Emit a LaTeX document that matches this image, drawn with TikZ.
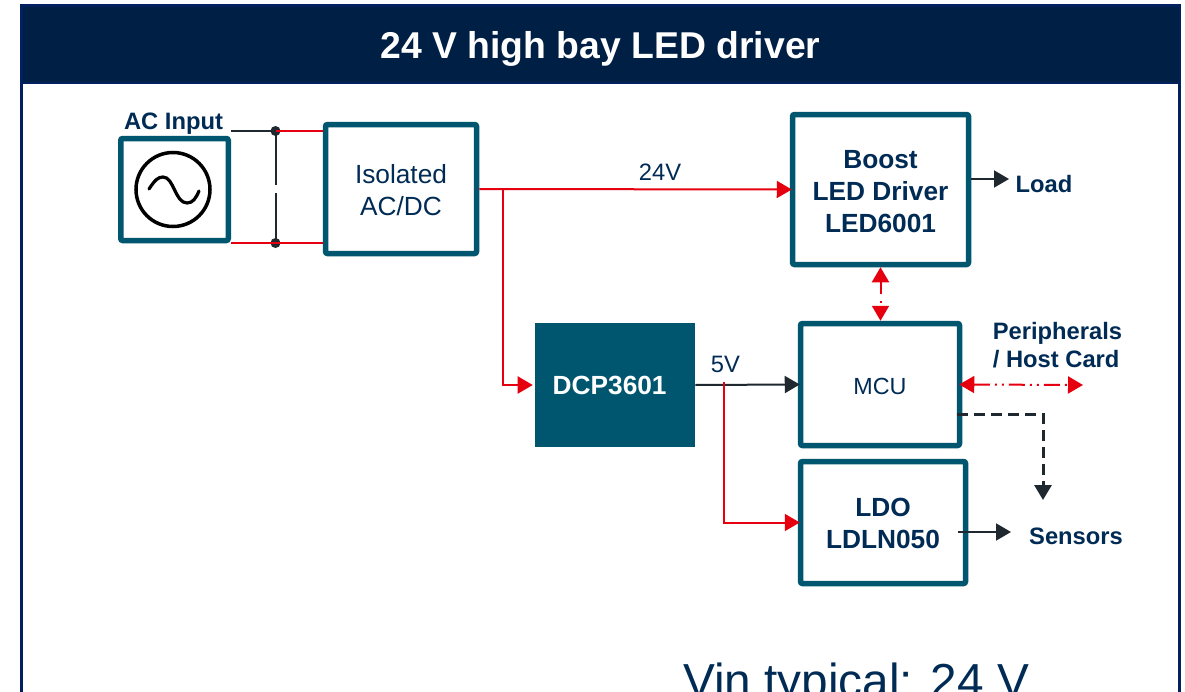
\documentclass[tikz,border=0pt]{standalone}
\usepackage{fontspec}
\setmainfont{Liberation Sans}
\usetikzlibrary{arrows.meta}
\definecolor{teal}{HTML}{00566F}
\definecolor{navy}{HTML}{002B55}
\definecolor{headfill}{HTML}{001F45}
\definecolor{headedge}{HTML}{00205F}
\definecolor{wirered}{HTML}{E6000F}
\definecolor{wiredark}{HTML}{20282F}
\def\px{0.75pt}
\newcommand{\topstrut}[1]{\rule{0pt}{#1pt}}
\tikzset{
  box/.style={draw=teal,line width=5.5*\px,fill=white,rounded corners=1.5pt,text=navy,align=center,inner sep=0pt,
    font=\fontsize{19.7}{24}\selectfont},
  boldbox/.style={box,font=\fontsize{19.7}{24}\selectfont\bfseries},
  lbl/.style={text=navy,inner sep=0pt,font=\fontsize{17.8}{21}\selectfont},
  boldlbl/.style={lbl,font=\fontsize{17.8}{21}\selectfont\bfseries},
  redtip/.style={-{Triangle[length=15*\px,width=17*\px]},draw=wirered,line width=2*\px},
  darktip/.style={-{Triangle[length=15*\px,width=17*\px]},draw=wiredark,line width=2*\px},
  redbi/.style={{Triangle[length=15*\px,width=17*\px]}-{Triangle[length=15*\px,width=17*\px]},draw=wirered,line width=2*\px},
  redwire/.style={draw=wirered,line width=2*\px},
  darkwire/.style={draw=wiredark,line width=2*\px},
  dot/.style={circle,fill=wiredark,minimum size=10*\px,inner sep=0pt},
}
\begin{document}
\begin{tikzpicture}[x=0.75pt,y=-0.75pt]
\clip (0,0) rectangle (1185,692);
\fill[white] (0,0) rectangle (1185,692);
% frame and title
\draw[headedge,line width=3*\px] (21.5,6) rectangle (1179.5,720);
\node[fill=headfill,draw=headedge,line width=2*\px,minimum width=1158*\px,minimum height=77*\px,inner sep=0pt,
  text=white,font=\fontsize{28}{32}\selectfont\bfseries] (title) at (600.5,45) {\topstrut{26.5}24 V high bay LED driver};
% blocks
\node[box,minimum width=107.5*\px,minimum height=102*\px] (src) at (174.5,189.5) {};
\node[box,minimum width=151*\px,minimum height=129*\px] (iso) at (401,189) {\topstrut{15.9}Isolated\\AC/DC};
\node[boldbox,minimum width=176*\px,minimum height=150*\px] (boost) at (880.5,189.5) {\topstrut{17}Boost\\LED Driver\\LED6001};
\node[box,minimum width=159*\px,minimum height=122*\px,font=\fontsize{17.5}{21}\selectfont] (mcu) at (880,384.5) {\topstrut{15.5}MCU};
\node[boldbox,minimum width=165*\px,minimum height=122*\px] (ldo) at (883,522.5) {\topstrut{15.5}LDO\\LDLN050};
\node[fill=teal,minimum width=160*\px,minimum height=124*\px,inner sep=0pt,text=white,
  font=\fontsize{19.7}{24}\selectfont\bfseries] (dcp) at (615,385) {\hspace*{-8pt}DCP3601};
% AC symbol
\draw[black,line width=3.5*\px] (src.center) ++(-1.5,0) circle[radius=37];
\draw[black,line width=3.2*\px,line cap=round] (149,189) .. controls (155,180) and (158,177) .. (163,177)
  .. controls (174,177) and (175,203) .. (187,203) .. controls (193,203) and (196,198) .. (199,191);
% labels
\node[boldlbl] (acin) at (173.5,124) {AC Input};
\node[lbl] (v24) at (660,172) {24V};
\node[lbl] (v5) at (725.5,364) {5V};
\node[boldlbl] (load) at (1044,184) {Load};
\node[boldlbl,align=left] (peri) at (1057.5,345) {Peripherals\\/ Host Card};
\node[boldlbl] (sens) at (1076,536) {Sensors};
\node[text=navy,inner sep=0pt,anchor=base,font=\fontsize{35.8}{42}\selectfont] (vin) at (856,697) {Vin typical: 24 V};
% input wires
\coordinate (topl) at (231,131);
\coordinate (botl) at (231,243);
\node[dot] (d1) at (275.5,131) {};
\node[dot] (d2) at (275.5,243) {};
\coordinate (gap1) at (275.5,185);
\coordinate (gap2) at (275.5,193);
\draw[darkwire] (topl) -- (d1.center);
\draw[darkwire] (d1.center) -- (gap1) (gap2) -- (d2.center);
\draw[redwire] (d1.center) -- (d1.center -| iso.west);
\draw[redwire] (botl) -- (d2.center -| iso.west);
% 24 V rail
\coordinate (j1) at (503,189);
\draw[redtip,shorten >=-2*\px] (iso.east) -- (boost.west);
\draw[redtip,shorten >=2*\px] (j1) |- (dcp.west);
% 5 V rail
\coordinate (j2) at (723.5,382);
\draw[darktip,shorten >=-2*\px] (dcp.east) -- (mcu.west);
\draw[redtip,shorten >=-2*\px] (j2) |- (ldo.west);
% control links
\draw[redbi,dash pattern=on 12*\px off 7*\px on 2*\px off 20*\px] (boost.south) -- (boost.south |- mcu.north);
\coordinate (perend) at (1083,385);
\draw[redbi,shorten <=-3*\px,dash pattern=on 16*\px off 5*\px on 2*\px off 5*\px on 2*\px off 5*\px] (mcu.east) -- (perend);
\coordinate (dash0) at (957,414);
\coordinate (dash1) at (1043,500);
\draw[darktip,line width=3*\px,dash pattern=on 11*\px off 6*\px] (dash0) -| (dash1);
% outputs
\coordinate (loadtip) at (1009,179);
\coordinate (loadst) at (971,179);
\draw[darktip] (loadst) -- (loadtip);
\coordinate (senstip) at (1011,532);
\coordinate (sensst) at (958,532);
\draw[darktip] (sensst) -- (senstip);
\end{tikzpicture}
\end{document}
